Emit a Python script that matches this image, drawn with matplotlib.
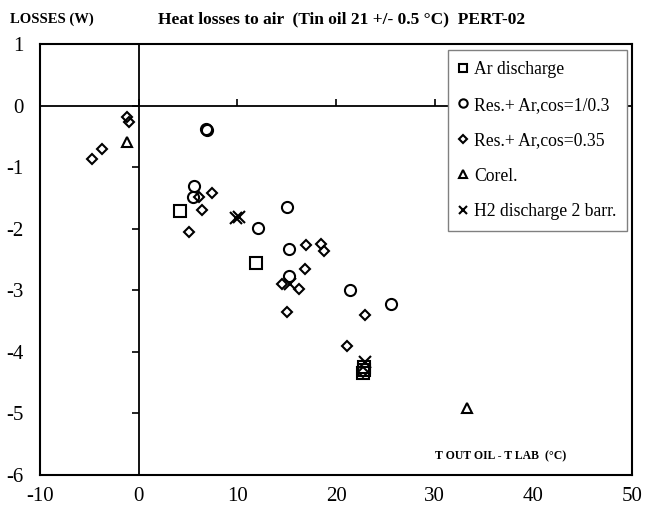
import matplotlib
matplotlib.use("Agg")
import matplotlib.pyplot as plt
import numpy as np

plt.rcParams["font.family"] = ["Liberation Serif", "DejaVu Serif"]
plt.rcParams["axes.unicode_minus"] = False

# Ar discharge
ar_x = [4.2, 11.9, 22.8, 22.8, 22.7]
ar_y = [-1.71, -2.56, -4.25, -4.30, -4.35]

# Res.+ Ar, cos=1/0.3
res1_x = [6.8, 6.9, 5.65, 5.5, 12.05, 15.0, 15.2, 15.2, 21.4, 25.6]
res1_y = [-0.38, -0.40, -1.31, -1.48, -1.99, -1.65, -2.33, -2.77, -2.99, -3.22]

# Res.+ Ar, cos=0.35
res2_x = [-1.2, -1.0, -3.7, -4.7, 6.1, 7.4, 6.4, 5.1, 17.0, 18.5, 18.8,
          16.9, 14.5, 16.2, 15.0, 22.9, 21.1, 22.7]
res2_y = [-0.19, -0.27, -0.70, -0.87, -1.48, -1.42, -1.70, -2.05, -2.26,
          -2.25, -2.36, -2.65, -2.90, -2.98, -3.35, -3.40, -3.90, -4.33]

# Corel.
corel_x = [-1.2, 33.3]
corel_y = [-0.59, -4.91]

# H2 discharge 2 barr.
h2_x = [9.9, 10.2, 22.9, 15.3]
h2_y = [-1.83, -1.81, -4.17, -2.89]

x_ticks = [-10, 0, 10, 20, 30, 40, 50]
y_ticks = [1, 0, -1, -2, -3, -4, -5, -6]

fig = plt.figure(figsize=(6.55, 5.19), dpi=100)
ax = fig.add_axes([0.061, 0.085, 0.904, 0.830])
ax.set_xlim(-10, 50)
ax.set_ylim(-6, 1)
ax.set_xticks(x_ticks)
ax.set_yticks(y_ticks)
ax.tick_params(length=0, labelsize=15, pad=9)
ax.tick_params(axis="y", pad=12)
for sp in ax.spines.values():
    sp.set_linewidth(1.5)

# zero lines with their small ticks
ax.axhline(0, color="black", lw=1.3)
ax.axvline(0, color="black", lw=1.3)
ax.plot(np.zeros(len(y_ticks)), y_ticks, marker=0, ls="none", ms=5,
        mew=1.2, color="black")
ax.plot(x_ticks, np.zeros(len(x_ticks)), marker=2, ls="none", ms=5,
        mew=1.2, color="black")

mk = dict(ls="none", color="black", mfc="none", mew=1.5)
ax.plot(ar_x, ar_y, marker="s", ms=8, label="Ar discharge", **mk)
ax.plot(res1_x, res1_y, marker="o", ms=8,
        label="Res.+ Ar,cos=1/0.3", **mk)
ax.plot(res2_x, res2_y, marker="D", ms=5,
        label="Res.+ Ar,cos=0.35", **mk)
ax.plot(corel_x, corel_y, marker="^", ms=7, label="Corel.", **mk)
ax.plot(h2_x, h2_y, marker="x", ms=8, label="H2 discharge 2 barr.", **mk)

leg = ax.legend(loc="upper right", bbox_to_anchor=(0.992, 0.986),
                fontsize=12.7, labelspacing=1.05, handlelength=0.5,
                handletextpad=0.35, borderpad=0.62, borderaxespad=0,
                fancybox=False, edgecolor="gray", framealpha=1,
                markerscale=0.75)
leg.get_frame().set_linewidth(1.0)

ax.text(0.888, 0.03, "T OUT OIL - T LAB  (°C)", transform=ax.transAxes,
        ha="right", va="bottom", fontsize=8.5, fontweight="bold")
fig.text(0.015, 0.962, "LOSSES (W)", ha="left", va="center",
         fontsize=10.5, fontweight="bold")
fig.text(0.522, 0.962, "Heat losses to air  (Tin oil 21 +/- 0.5 °C)  PERT-02",
         ha="center", va="center", fontsize=12.5, fontweight="bold")

fig.savefig("out.png", dpi=100)
